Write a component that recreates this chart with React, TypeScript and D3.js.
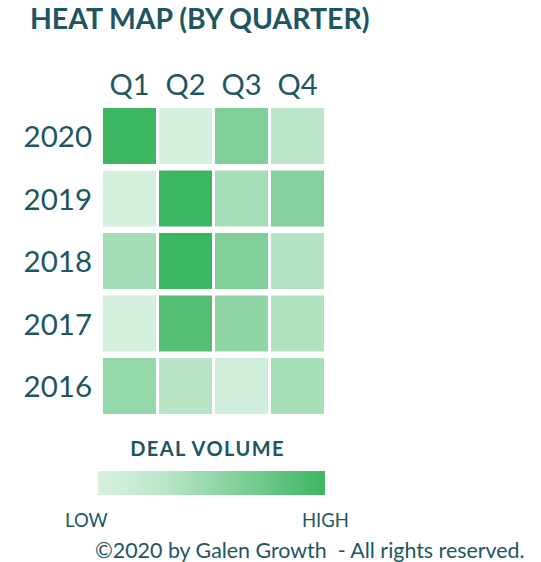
import React from "react";
import * as d3 from "d3";

const quarters = ["Q1", "Q2", "Q3", "Q4"];
const years = ["2020", "2019", "2018", "2017", "2016"];
// relative deal volume per year (rows) and quarter (columns), 0 = low, 1 = high
const v2020 = [1.0, 0.01, 0.57, 0.19];
const v2019 = [0.01, 1.0, 0.33, 0.53];
const v2018 = [0.34, 1.0, 0.57, 0.23];
const v2017 = [0.01, 0.86, 0.47, 0.26];
const v2016 = [0.44, 0.21, 0.05, 0.33];
const values = [v2020, v2019, v2018, v2017, v2016];

const LOW_COLOR = "#d8f1e1";
const HIGH_COLOR = "#3db662";
const TEXT = "#1d5661";

export default function App() {
  const x = d3.scaleBand<string>().domain(quarters).range([103, 324]).paddingInner(3 / 56).paddingOuter(0);
  const y = d3.scaleBand<string>().domain(years).range([108, 414]).paddingInner(6.5 / 62.5).paddingOuter(0);
  const color = d3.scaleLinear<string>().domain([0, 1]).range([LOW_COLOR, HIGH_COLOR]).interpolate(d3.interpolateRgb);
  const font = "Lato, 'Open Sans', sans-serif";

  return (
    <svg width={541} height={562} style={{ position: "absolute", left: 0, top: 0, fontFamily: font }}>
      <defs>
        <linearGradient id="legendGrad" x1="0" x2="1" y1="0" y2="0">
          <stop offset="0%" stopColor={color(0)} />
          <stop offset="30%" stopColor={color(0.2)} />
          <stop offset="100%" stopColor={color(1)} />
        </linearGradient>
      </defs>
      <text x={30} y={29} fontSize={28.4} fontWeight={700} fill={TEXT}>HEAT MAP (BY QUARTER)</text>
      {quarters.map((q) => (
        <text key={q} x={(x(q) as number) + x.bandwidth() / 2} y={95} textAnchor="middle" fontSize={29} fill={TEXT}>{q}</text>
      ))}
      {years.map((yr) => (
        <text key={yr} x={92} y={(y(yr) as number) + y.bandwidth() / 2 + 11} textAnchor="end" fontSize={29.5} fill={TEXT}>{yr}</text>
      ))}
      {years.map((yr, i) =>
        quarters.map((q, j) => (
          <rect key={yr + q} x={x(q)} y={y(yr)} width={x.bandwidth()} height={y.bandwidth()} fill={color(values[i][j])} />
        ))
      )}
      <text x={207.5} y={456} textAnchor="middle" fontSize={20} fontWeight={700} letterSpacing={1.4} fill={TEXT}>DEAL VOLUME</text>
      <rect x={98} y={471} width={227} height={24} fill="url(#legendGrad)" />
      <text x={65} y={527} fontSize={18.5} fill={TEXT}>LOW</text>
      <text x={302} y={527} fontSize={18.5} fill={TEXT}>HIGH</text>
      <text x={95} y={558} fontSize={21.4} fill={TEXT} style={{ whiteSpace: "pre" }}>{"©2020 by Galen Growth  - All rights reserved."}</text>
    </svg>
  );
}
